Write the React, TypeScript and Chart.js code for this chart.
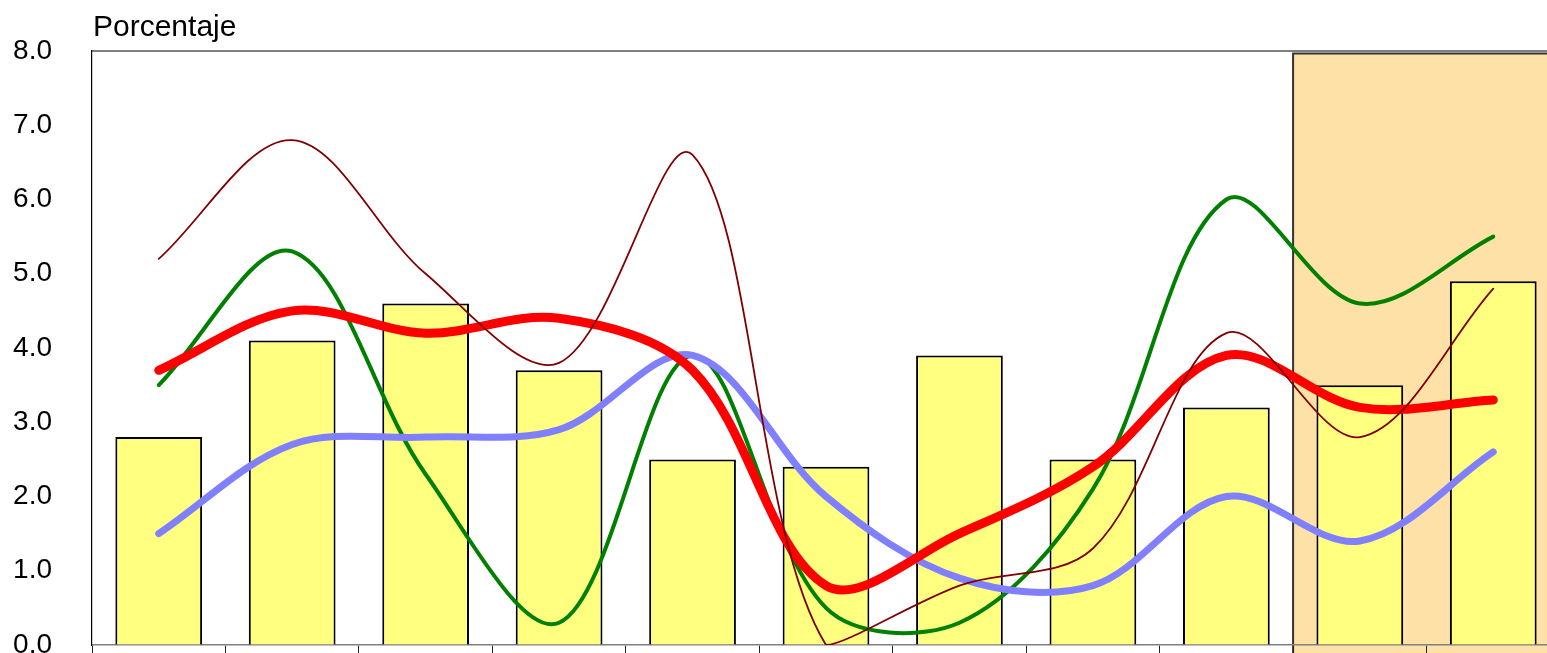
import React, { useEffect, useRef } from 'react';
import { Chart, registerables } from 'chart.js';

Chart.register(...registerables);

// ---- data ----
const categories = ['2002', '2003', '2004', '2005', '2006', '2007', '2008', '2009', '2010', '2011', '2012'];
const barValues = [2.8, 4.1, 4.6, 3.7, 2.5, 2.4, 3.9, 2.5, 3.2, 3.5, 4.9];
const darkRedValues = [5.2, 6.8, 5.0, 3.8, 6.6, 0.0, 0.8, 1.3, 4.2, 2.8, 4.8];
const greenValues = [3.5, 5.3, 2.3, 0.3, 3.9, 0.5, 0.3, 2.1, 6.0, 4.6, 5.5];
const redValues = [3.7, 4.5, 4.2, 4.4, 3.7, 0.8, 1.5, 2.4, 3.9, 3.2, 3.3];
const blueValues = [1.5, 2.7, 2.8, 2.9, 3.9, 2.0, 0.9, 0.8, 2.0, 1.4, 2.6];
const yMin = 0;
const yMax = 8;
const yStep = 1;
const shadedFromIndex = 9;
const yTitle = 'Porcentaje';

const FONT = "'Liberation Sans', Arial, sans-serif";

const decorPlugin = {
  id: 'decor',
  beforeDraw(chart: any) {
    const { ctx, chartArea, scales } = chart;
    const x = scales.x;
    const y = scales.y;
    const half = (x.getPixelForValue(1) - x.getPixelForValue(0)) / 2;
    const left = x.getPixelForValue(shadedFromIndex) - half;
    const top = y.getPixelForValue(yMax) + 2.5;
    ctx.save();
    ctx.fillStyle = '#FDE1A7';
    ctx.fillRect(left, top, chart.width - left + 10, chart.height);
    ctx.strokeStyle = '#333333';
    ctx.lineWidth = 2;
    ctx.beginPath();
    ctx.moveTo(left, chart.height + 5);
    ctx.lineTo(left, top);
    ctx.lineTo(chart.width + 5, top);
    ctx.stroke();
    // top border of plot area
    ctx.strokeStyle = '#000000';
    ctx.lineWidth = 1.2;
    ctx.beginPath();
    ctx.moveTo(chartArea.left, chartArea.top);
    ctx.lineTo(chart.width + 5, chartArea.top);
    ctx.stroke();
    // axis title
    ctx.fillStyle = '#000000';
    ctx.font = `30px ${FONT}`;
    ctx.textBaseline = 'alphabetic';
    ctx.textAlign = 'left';
    ctx.fillText(yTitle, chartArea.left + 1, 36);
    ctx.restore();
  },
};

export default function App() {
  const ref = useRef<HTMLCanvasElement | null>(null);

  useEffect(() => {
    const canvas = ref.current;
    if (!canvas) return;
    const lineCommon = {
      type: 'line' as const,
      pointRadius: 0,
      pointHoverRadius: 0,
      tension: 0.34,
      fill: false,
      borderCapStyle: 'round' as const,
      borderJoinStyle: 'round' as const,
    };
    const chart = new Chart(canvas, {
      type: 'bar',
      data: {
        labels: categories,
        datasets: [
          {
            ...lineCommon,
            label: 'darkred',
            data: darkRedValues,
            borderColor: '#800000',
            borderWidth: 1.8,
            order: 1,
          },
          {
            ...lineCommon,
            label: 'red',
            data: redValues,
            borderColor: '#FF0000',
            borderWidth: 9,
            order: 2,
          },
          {
            ...lineCommon,
            label: 'blue',
            data: blueValues,
            borderColor: '#8080FF',
            borderWidth: 7,
            order: 3,
          },
          {
            ...lineCommon,
            label: 'green',
            data: greenValues,
            borderColor: '#008000',
            borderWidth: 4,
            order: 4,
          },
          {
            type: 'bar' as const,
            label: 'bars',
            data: barValues,
            backgroundColor: '#FFFF80',
            borderColor: '#000000',
            borderWidth: 2,
            barPercentage: 0.65,
            categoryPercentage: 1,
            order: 5,
          },
        ] as any,
      },
      options: {
        responsive: false,
        maintainAspectRatio: false,
        animation: false,
        devicePixelRatio: 1,
        layout: { padding: { top: 51, right: 20, left: 0, bottom: 0 } },
        plugins: {
          legend: { display: false },
          tooltip: { enabled: false },
          title: { display: false },
        },
        scales: {
          x: {
            type: 'category',
            offset: true,
            grid: {
              display: true,
              offset: true,
              drawOnChartArea: false,
              drawTicks: true,
              tickLength: 15,
              color: '#222222',
              lineWidth: 1,
            },
            border: { display: true, color: '#808080', width: 1.5 },
            ticks: { display: false },
            afterFit(scale: any) {
              scale.height = 55;
              scale.paddingLeft = 0;
              scale.paddingRight = 0;
              scale.paddingTop = 0;
              scale.paddingBottom = 0;
            },
          },
          y: {
            type: 'linear',
            min: yMin,
            max: yMax,
            ticks: {
              stepSize: yStep,
              color: '#000000',
              padding: 40,
              font: { family: FONT, size: 28 },
              callback: (v: any) => Number(v).toFixed(1),
            },
            grid: { display: true, drawOnChartArea: false, drawTicks: false },
            border: { display: true, color: '#000000', width: 1.2 },
            afterFit(scale: any) {
              scale.width = 92;
              scale.paddingTop = 0;
              scale.paddingBottom = 0;
              scale.paddingLeft = 0;
              scale.paddingRight = 0;
            },
          },
        },
      },
      plugins: [decorPlugin],
    } as any);
    return () => chart.destroy();
  }, []);

  return (
    <div
      style={{
        position: 'fixed',
        left: 0,
        top: 0,
        width: 1547,
        height: 653,
        overflow: 'hidden',
        background: '#ffffff',
      }}
    >
      <canvas ref={ref} width={1580} height={700} style={{ display: 'block', width: 1580, height: 700 }} />
    </div>
  );
}
